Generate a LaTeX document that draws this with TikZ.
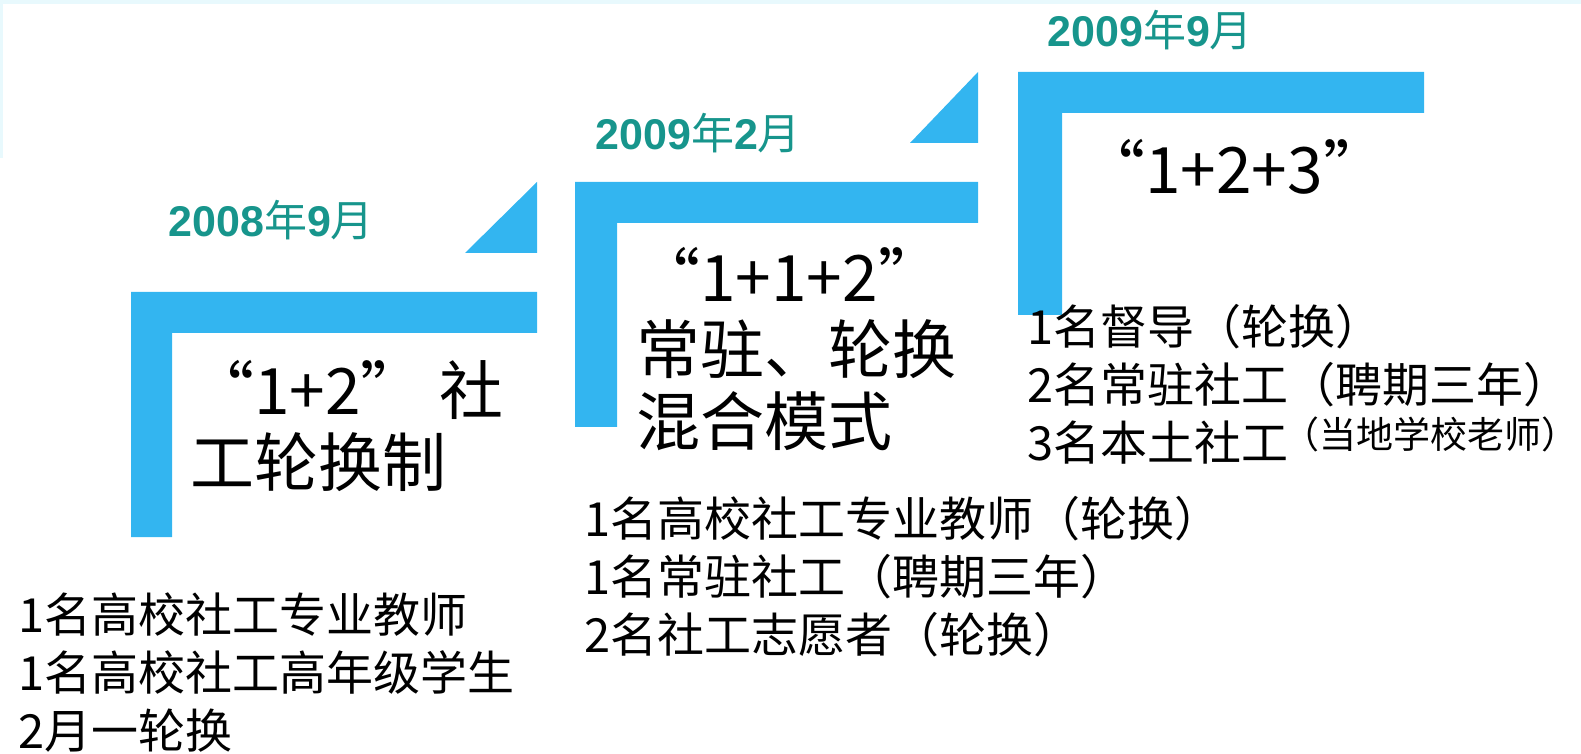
\documentclass[tikz,border=0pt]{standalone}
\usepackage{fontspec}
\setmainfont{Liberation Sans}
\newfontfamily\cjk{Noto Sans CJK SC}
\definecolor{stepblue}{HTML}{33B5F0}
\definecolor{dateteal}{HTML}{17958C}
\definecolor{edgecyan}{HTML}{E8F9FD}
\newcommand{\yearmonth}[2]{{\bfseries #1}{\cjk 年}{\bfseries #2}{\cjk 月}}
\begin{document}
\begin{tikzpicture}[x=0.5pt,y=-0.5pt,
    band/.style={fill=stepblue},
    datetext/.style={text=dateteal,inner sep=0pt,anchor=west,font=\fontsize{21.5}{24}\selectfont},
    modetext/.style={inner sep=0pt,anchor=west,align=left,font=\cjk\fontsize{32}{36}\selectfont},
    listtext/.style={inner sep=0pt,anchor=west,align=left,font=\cjk\fontsize{23.5}{29}\selectfont}]
    \useasboundingbox (0,0) rectangle (1581,754);
    % faint frame, top left
    \fill[edgecyan] (0,0) rectangle (1581,4);
    \fill[edgecyan] (0,0) rectangle (3,158);

    % step 1
    \fill[band] (131,292) -- (537,292) -- (537,333) -- (172,333) -- (172,537) -- (131,537) -- cycle;
    \fill[band] (537,182) -- (537,253) -- (465,253) -- cycle;
    % step 2
    \fill[band] (575,182) -- (978,182) -- (978,223) -- (617,223) -- (617,427) -- (575,427) -- cycle;
    \fill[band] (978,72) -- (978,143) -- (910,143) -- cycle;
    % step 3
    \fill[band] (1018,72) -- (1424,72) -- (1424,113) -- (1062,113) -- (1062,315) -- (1018,315) -- cycle;

    \node[datetext] (d1) at (168,220) {\yearmonth{2008}{9}};
    \node[datetext] (d2) at (595,133) {\yearmonth{2009}{2}};
    \node[datetext] (d3) at (1047,30) {\yearmonth{2009}{9}};

    \node[modetext] (m1) at (190,426) {“1+2” 社\\工轮换制};
    \node[modetext] (m2) at (636,349) {“1+1+2”\\常驻、轮换\\混合模式};
    \node[modetext] (m3) at (1081,167) {“1+2+3”};

    \node[listtext] (l1) at (18,673) {1名高校社工专业教师\\1名高校社工高年级学生\\2月一轮换};
    \node[listtext] (l2) at (584,577) {1名高校社工专业教师（轮换）\\1名常驻社工（聘期三年）\\2名社工志愿者（轮换）};
    \node[listtext] (l3) at (1027,384) {1名督导（轮换）\\2名常驻社工（聘期三年）\\3名本土社工\hspace{-3pt}\raisebox{6pt}{\fontsize{18.5}{22}\selectfont（当地学校老师）}};
\end{tikzpicture}
\end{document}
